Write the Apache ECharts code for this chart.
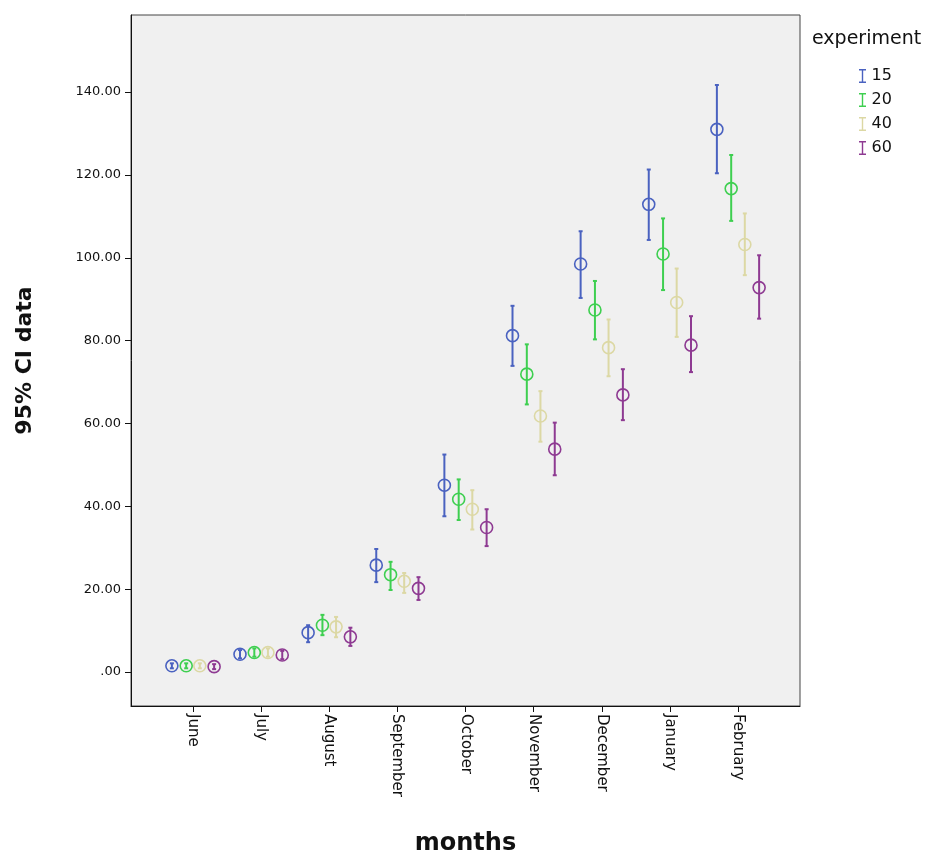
<!DOCTYPE html>
<html>
<head>
<meta charset="utf-8">
<script src="https://cdn.jsdelivr.net/npm/echarts@6/dist/echarts.min.js"></script>
<style>
    body { margin: 0; background: #ffffff; }
    #main { width: 938px; height: 854px; }
</style>
</head>
<body>
<div id="main"></div>
<script>
let log = console.log.bind(console)

// 月份
const months = ['June', 'July', 'August', 'September', 'October', 'November', 'December', 'January', 'February']
const groups = ['15', '20', '40', '60']
const yTicks = [0, 20, 40, 60, 80, 100, 120, 140]

// 均值 和 95% CI 上下限
const mean15 = [1.5, 4.3, 9.5, 25.8, 45.1, 81.2, 98.5, 112.9, 131.0]
const low15  = [0.9, 3.3, 7.2, 21.7, 37.6, 73.9, 90.3, 104.3, 120.4]
const high15 = [2.1, 5.3, 11.3, 29.7, 52.5, 88.4, 106.4, 121.3, 141.7]

const mean20 = [1.5, 4.7, 11.3, 23.5, 41.7, 71.9, 87.4, 100.9, 116.7]
const low20  = [0.9, 3.7, 8.9, 19.8, 36.7, 64.6, 80.3, 92.2, 108.9]
const high20 = [2.1, 5.7, 13.8, 26.6, 46.5, 79.1, 94.4, 109.5, 124.8]

const mean40 = [1.5, 4.7, 10.9, 21.9, 39.3, 61.8, 78.3, 89.2, 103.2]
const low40  = [0.9, 3.7, 8.4, 19.1, 34.4, 55.6, 71.4, 80.9, 95.8]
const high40 = [2.1, 5.7, 13.3, 23.9, 43.9, 67.8, 85.1, 97.4, 110.7]

const mean60 = [1.3, 4.1, 8.5, 20.2, 34.9, 53.8, 66.9, 78.9, 92.8]
const low60  = [0.7, 3.1, 6.3, 17.4, 30.4, 47.5, 60.8, 72.4, 85.3]
const high60 = [1.9, 5.1, 10.7, 22.9, 39.3, 60.2, 73.1, 85.9, 100.6]

const colors = ['#4a62c0', '#3ecf50', '#dcd8a4', '#8e3a92']
const offsets = [-0.31, -0.1, 0.1, 0.31]

let means = [mean15, mean20, mean40, mean60]
let lows = [low15, low20, low40, low60]
let highs = [high15, high20, high40, high60]

const fnt = 'DejaVu Sans, Verdana, sans-serif'

// 画误差线和圆圈
let makeRender = function(k) {
    return function(params, api) {
        let x = api.value(0) + offsets[k]
        let m = api.coord([x, api.value(1)])
        let lo = api.coord([x, api.value(2)])
        let hi = api.coord([x, api.value(3)])
        let c = colors[k]
        let st = { stroke: c, lineWidth: 2 }
        return {
            type: 'group',
            children: [
                { type: 'line', shape: { x1: m[0], y1: lo[1], x2: m[0], y2: hi[1] }, style: st },
                { type: 'line', shape: { x1: m[0] - 2, y1: lo[1], x2: m[0] + 2, y2: lo[1] }, style: st },
                { type: 'line', shape: { x1: m[0] - 2, y1: hi[1], x2: m[0] + 2, y2: hi[1] }, style: st },
                { type: 'circle', shape: { cx: m[0], cy: m[1], r: 6 }, style: { stroke: c, lineWidth: 1.6, fill: null } },
            ]
        }
    }
}

let series = []
for (let k = 0; k < groups.length; k++) {
    let data = []
    for (let i = 0; i < months.length; i++) {
        data.push([i, means[k][i], lows[k][i], highs[k][i]])
    }
    series.push({
        name: groups[k],
        type: 'custom',
        renderItem: makeRender(k),
        itemStyle: { color: colors[k] },
        encode: { x: 0, y: [1, 2, 3] },
        data: data,
    })
}

let myChart = echarts.init(document.getElementById('main'))

let option = {
    animation: false,
    textStyle: { fontFamily: fnt },
    grid: {
        left: 131,
        right: 138,
        top: 15,
        bottom: 148,
        outerBoundsMode: 'none',
        containLabel: false,
        show: true,
        backgroundColor: '#f0f0f0',
        borderColor: '#444',
        borderWidth: 1,
    },
    graphic: [{
        type: 'text',
        left: 812,
        top: 30,
        style: { text: 'experiment', fontSize: 19, fill: '#111', fontFamily: fnt }
    }],
    legend: {
        orient: 'vertical',
        left: 854,
        top: 63,
        itemWidth: 8,
        itemHeight: 14,
        itemGap: 8,
        icon: 'path://M0,0 H10 V2 H6 V18 H10 V20 H0 V18 H4 V2 H0 Z',
        textStyle: { fontSize: 16, color: '#111', fontFamily: fnt },
        data: groups,
    },
    xAxis: {
        type: 'value',
        min: -0.91,
        max: 8.91,
        name: 'months',
        nameLocation: 'middle',
        nameGap: 126,
        nameTextStyle: { fontSize: 24, fontWeight: 'bold', color: '#111', fontFamily: fnt },
        axisLine: { onZero: false, lineStyle: { color: '#111' } },
        axisTick: { show: true, length: 6, lineStyle: { color: '#111' }, customValues: [0, 1, 2, 3, 4, 5, 6, 7, 8] },
        axisLabel: {
            rotate: -90,
            fontSize: 15,
            color: '#111',
            margin: 8,
            customValues: [0, 1, 2, 3, 4, 5, 6, 7, 8],
            formatter: function(v) { return months[Math.round(v)] },
        },
        splitLine: { show: false },
    },
    yAxis: {
        type: 'value',
        min: -8.2,
        max: 158.6,
        name: '95% CI data',
        nameLocation: 'middle',
        nameGap: 95,
        nameTextStyle: { fontSize: 22, fontWeight: 'bold', color: '#111', fontFamily: fnt },
        axisLine: { show: true, onZero: false, lineStyle: { color: '#111' } },
        axisTick: { show: true, length: 6, lineStyle: { color: '#111' }, customValues: yTicks },
        axisLabel: {
            fontSize: 13,
            color: '#111',
            margin: 10,
            customValues: yTicks,
            formatter: function(v) { return v === 0 ? '.00' : v.toFixed(2) },
        },
        splitLine: { show: false },
    },
    series: series,
}

myChart.setOption(option)
</script>
</body>
</html>
